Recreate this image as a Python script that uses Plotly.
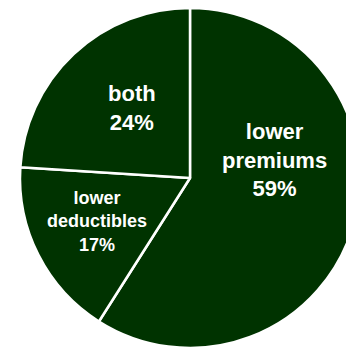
import plotly.graph_objects as go

labels = ["lower premiums", "lower deductibles", "both"]
values = [59, 17, 24]
text_labels = ["lower<br>premiums", "lower<br>deductibles", "both"]

# label styling / placement (pixel centres in the figure)
label_sizes = [22, 18, 22]
label_pos = [(274, 160), (97, 222), (132, 108)]

W, H = 380, 349
cx, cy, r = 190, 178, 170

total = sum(values)
fig = go.Figure(go.Pie(
    labels=labels,
    values=values,
    textinfo="none",
    sort=False,
    direction="clockwise",
    rotation=0,
    marker=dict(colors=["#003300"] * 3, line=dict(color="white", width=2.5)),
    hoverinfo="none",
    domain=dict(x=[(cx - r) / W, (cx + r) / W], y=[(H - cy - r) / H, (H - cy + r) / H]),
))

for lab, v, sz, (px, py) in zip(text_labels, values, label_sizes, label_pos):
    fig.add_annotation(
        text=f"{lab}<br>{round(100 * v / total)}%",
        x=px / W, y=1 - py / H, xref="paper", yref="paper",
        xanchor="center", yanchor="middle", showarrow=False,
        font=dict(color="white", size=sz, family="Liberation Sans, Arial, sans-serif", weight="bold"),
    )

fig.update_layout(
    width=W, height=H,
    margin=dict(l=0, r=0, t=0, b=0),
    showlegend=False,
    paper_bgcolor="white",
)
fig.write_html("out.html", post_script="document.documentElement.style.overflow='hidden';document.body.style.overflow='hidden';document.body.style.margin='0';")
